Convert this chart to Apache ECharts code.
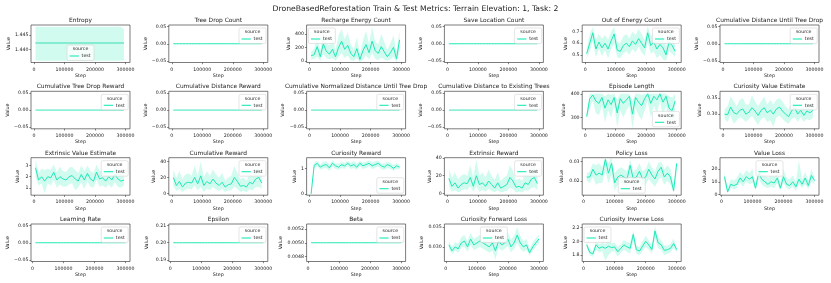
<!DOCTYPE html>
<html><head><meta charset="utf-8">
<script src="https://cdn.jsdelivr.net/npm/echarts@6/dist/echarts.min.js"></script>
<style>html,body{margin:0;padding:0;background:#fff}#c{width:831px;height:283px}</style>
</head><body><div id="c"></div>
<script>
// ---------- data ----------
const stepsEnv = [5000,15000,25000,35000,45000,55000,65000,75000,85000,95000,105000,115000,125000,135000,145000,155000,165000,175000,185000,195000,205000,215000,225000,235000,245000,255000,265000,275000,285000,295000];
const stepsUpd = [10000,20000,30000,40000,50000,60000,70000,80000,90000,100000,110000,120000,130000,140000,150000,160000,170000,180000,190000,200000,210000,220000,230000,240000,250000,260000,270000,280000,290000,300000];
const xTicks = [0,100000,200000,300000];

const zeros = [0,0,0,0,0,0,0,0,0,0,0,0,0,0,0,0,0,0,0,0,0,0,0,0,0,0,0,0,0,0];
const epsVals = [0.2,0.2,0.2,0.2,0.2,0.2,0.2,0.2,0.2,0.2,0.2,0.2,0.2,0.2,0.2,0.2,0.2,0.2,0.2,0.2,0.2,0.2,0.2,0.2,0.2,0.2,0.2,0.2,0.2,0.2];
const betaVals = [0.005,0.005,0.005,0.005,0.005,0.005,0.005,0.005,0.005,0.005,0.005,0.005,0.005,0.005,0.005,0.005,0.005,0.005,0.005,0.005,0.005,0.005,0.005,0.005,0.005,0.005,0.005,0.005,0.005,0.005];

const entMean = [1.4423,1.4423,1.4423,1.4423,1.4423,1.4423,1.4423,1.4423,1.4423,1.4423,1.4423,1.4423,1.4423,1.4423,1.4423,1.4423,1.4423,1.4423,1.4423,1.4423,1.4423,1.4423,1.4423,1.4423,1.4423,1.4423,1.4423,1.4423,1.4423,1.4423];
const entLo = [1.4362,1.4362,1.4362,1.4362,1.4362,1.4362,1.4362,1.4362,1.4362,1.4362,1.4362,1.4362,1.4362,1.4362,1.4362,1.4362,1.4362,1.4362,1.4362,1.4362,1.4362,1.4362,1.4362,1.4362,1.4362,1.4362,1.4362,1.4362,1.4362,1.4362];
const entHi = [1.4479,1.4479,1.4479,1.4479,1.4479,1.4479,1.4479,1.4479,1.4479,1.4479,1.4479,1.4479,1.4479,1.4479,1.4479,1.4479,1.4479,1.4479,1.4479,1.4479,1.4479,1.4479,1.4479,1.4479,1.4479,1.4479,1.4479,1.4479,1.4479,1.4470];

const recMean = [75,90,210,60,250,140,100,170,60,200,290,170,230,110,60,180,20,150,240,120,290,150,110,210,130,60,120,200,30,310];
const recLo = [20,30,60,0,100,40,20,40,0,60,120,40,80,10,0,40,-20,20,80,20,120,30,10,50,20,0,20,60,-20,150];
const recHi = [130,180,380,150,420,260,230,330,160,380,470,320,420,240,170,350,100,300,450,250,505,290,240,400,280,160,260,380,130,450];

const ooeMean = [0.51,0.60,0.69,0.55,0.61,0.56,0.60,0.55,0.62,0.68,0.54,0.53,0.58,0.60,0.57,0.62,0.59,0.64,0.60,0.56,0.69,0.58,0.61,0.55,0.59,0.56,0.50,0.61,0.58,0.53];
const ooeLo = [0.47,0.53,0.62,0.48,0.55,0.49,0.54,0.47,0.55,0.60,0.48,0.47,0.51,0.53,0.50,0.55,0.52,0.57,0.52,0.49,0.61,0.51,0.53,0.47,0.50,0.46,0.45,0.53,0.51,0.48];
const ooeHi = [0.55,0.68,0.74,0.63,0.68,0.64,0.67,0.63,0.70,0.74,0.61,0.60,0.66,0.68,0.64,0.70,0.67,0.72,0.68,0.63,0.75,0.66,0.69,0.62,0.69,0.66,0.57,0.70,0.66,0.58];

const epMean = [305,380,395,370,360,385,340,375,355,385,320,380,360,375,390,315,385,365,350,380,400,360,390,375,400,365,390,340,330,370];
const epLo = [290,340,370,320,310,350,280,330,300,350,260,330,300,330,350,255,340,310,290,330,370,300,350,320,370,310,350,280,270,320];
const epHi = [320,400,400,400,400,400,390,400,395,400,375,400,400,400,400,370,400,400,395,400,400,400,400,400,400,400,400,390,385,400];

const cveMean = [0.300,0.298,0.322,0.305,0.300,0.312,0.316,0.300,0.306,0.320,0.310,0.296,0.312,0.320,0.304,0.312,0.300,0.316,0.322,0.310,0.300,0.292,0.310,0.320,0.300,0.312,0.296,0.310,0.304,0.312];
const cveLo = [0.285,0.275,0.295,0.270,0.280,0.290,0.285,0.275,0.285,0.295,0.280,0.265,0.285,0.290,0.275,0.280,0.260,0.290,0.295,0.285,0.275,0.270,0.285,0.290,0.275,0.290,0.275,0.285,0.280,0.290];
const cveHi = [0.315,0.325,0.355,0.340,0.325,0.345,0.350,0.330,0.330,0.360,0.340,0.325,0.340,0.355,0.330,0.345,0.330,0.345,0.350,0.340,0.325,0.315,0.335,0.350,0.325,0.340,0.320,0.335,0.330,0.335];

const eveMean = [2.8,1.7,2.0,1.6,2.0,1.9,2.4,1.7,2.0,1.8,1.7,2.0,2.1,1.8,1.6,2.2,1.7,2.3,1.8,1.6,2.4,1.8,1.9,1.6,2.0,1.7,2.2,1.8,1.6,1.7];
const eveLo = [2.0,1.2,1.4,0.5,1.4,1.2,1.7,1.0,1.3,1.1,1.1,1.3,1.4,0.8,1.0,1.5,0.9,1.6,1.1,1.0,1.7,1.1,1.2,1.0,1.3,1.0,1.5,1.1,1.0,1.2];
const eveHi = [3.6,2.3,2.7,2.6,2.7,2.6,3.1,2.4,2.9,2.5,2.4,2.8,2.9,2.6,2.3,3.0,2.5,3.0,2.5,2.3,3.1,2.5,2.6,2.3,2.8,2.5,2.9,2.5,2.3,2.3];

const crMean = [20,10,15,8,13,14,13,20,12,22,10,15,12,18,13,10,14,8,11,12,20,15,9,10,8,14,12,18,20,13];
const crLo = [10,3,6,2,5,6,5,10,4,8,2,6,4,8,5,3,6,2,4,4,8,6,2,3,2,5,4,8,8,6];
const crHi = [30,20,28,18,24,25,22,35,22,40,20,28,22,30,24,20,26,16,20,22,34,26,18,20,16,25,22,30,33,22];

const curMean = [0.0,1.12,1.2,1.05,1.12,1.15,1.02,1.2,1.1,1.05,1.15,1.1,1.2,1.1,1.15,1.05,1.2,1.1,1.15,1.2,1.1,1.15,1.2,1.1,1.05,1.15,1.1,1.0,1.1,1.05];
const curLo = [0.0,1.0,1.08,0.95,1.0,1.02,0.9,1.08,0.98,0.95,1.02,0.98,1.08,0.98,1.02,0.94,1.08,0.98,1.02,1.08,0.98,1.02,1.08,0.98,0.94,1.02,0.98,0.9,0.98,0.95];
const curHi = [0.0,1.22,1.3,1.15,1.25,1.28,1.15,1.32,1.2,1.18,1.26,1.22,1.3,1.22,1.28,1.18,1.3,1.22,1.26,1.32,1.22,1.28,1.3,1.2,1.18,1.26,1.22,1.12,1.2,1.15];

const erMean = [17,8,12,6,10,12,11,18,8,20,10,12,8,14,10,6,12,6,8,10,18,14,7,8,6,12,10,16,18,11];
const erLo = [8,2,4,1,3,5,4,8,2,8,2,4,2,5,3,1,4,1,2,3,6,5,1,2,1,4,3,6,7,4];
const erHi = [27,18,24,16,20,22,20,32,18,38,20,24,18,27,20,15,24,14,18,20,32,25,15,17,14,23,20,28,30,20];

const plMean = [0.022,0.022,0.026,0.023,0.024,0.023,0.031,0.024,0.029,0.019,0.022,0.023,0.022,0.021,0.028,0.021,0.022,0.025,0.021,0.022,0.026,0.023,0.021,0.025,0.027,0.022,0.024,0.022,0.015,0.029];
const plLo = [0.020,0.019,0.022,0.018,0.019,0.019,0.025,0.019,0.023,0.015,0.018,0.019,0.018,0.017,0.022,0.017,0.018,0.020,0.017,0.018,0.021,0.019,0.017,0.020,0.022,0.018,0.020,0.018,0.014,0.024];
const plHi = [0.024,0.025,0.029,0.028,0.029,0.027,0.032,0.029,0.032,0.024,0.026,0.027,0.026,0.025,0.031,0.025,0.026,0.029,0.025,0.026,0.030,0.027,0.025,0.029,0.030,0.026,0.028,0.026,0.018,0.030];

const vlMean = [14,2,8,7,8,13,10,14,12,14,5,17,12,10,8,10,9,13,5,14,8,7,10,6,12,8,13,7,15,11];
const vlLo = [10,1,5,4,5,9,6,10,8,9,3,12,8,6,5,6,5,9,3,9,5,4,6,3,8,5,8,4,10,8];
const vlHi = [18,4,12,11,13,18,15,19,17,20,8,24,17,15,13,15,14,18,9,20,13,12,15,10,27,12,18,11,20,14];

const fwMean = [0.0305,0.0290,0.0300,0.0295,0.0310,0.0315,0.0300,0.0320,0.0305,0.0310,0.0315,0.0310,0.0305,0.0300,0.0310,0.0290,0.0315,0.0305,0.0310,0.0320,0.0300,0.0310,0.0330,0.0310,0.0300,0.0305,0.0285,0.0300,0.0310,0.0320];
const fwLo = [0.0295,0.0282,0.0290,0.0285,0.0298,0.0300,0.0288,0.0305,0.0292,0.0296,0.0300,0.0295,0.0290,0.0285,0.0290,0.0268,0.0298,0.0290,0.0295,0.0302,0.0286,0.0295,0.0310,0.0295,0.0288,0.0292,0.0278,0.0290,0.0300,0.0310];
const fwHi = [0.0315,0.0300,0.0312,0.0308,0.0325,0.0330,0.0315,0.0335,0.0320,0.0325,0.0330,0.0325,0.0322,0.0318,0.0330,0.0312,0.0332,0.0320,0.0325,0.0338,0.0318,0.0328,0.0350,0.0328,0.0315,0.0320,0.0295,0.0312,0.0322,0.0330];

const ivMean = [1.95,1.84,1.82,1.95,1.90,1.92,1.90,1.93,1.91,1.92,1.85,1.90,1.95,1.92,1.90,2.10,1.88,1.86,1.93,2.00,1.95,1.88,2.15,1.98,1.95,1.87,1.88,1.90,1.97,1.88];
const ivLo = [1.90,1.80,1.78,1.88,1.84,1.86,1.72,1.80,1.85,1.86,1.78,1.84,1.88,1.85,1.82,2.00,1.82,1.80,1.86,1.92,1.88,1.82,2.05,1.90,1.88,1.80,1.82,1.84,1.90,1.84];
const ivHi = [2.00,1.88,1.86,2.00,1.96,1.98,1.96,2.02,1.98,1.98,1.92,1.96,2.02,1.99,1.98,2.16,1.94,1.92,2.00,2.08,2.02,1.94,2.22,2.06,2.02,1.94,1.94,1.96,2.04,1.92];

// tick label arrays
const zeroTicks = [-0.05,0,0.05];
const entTicks = [1.440,1.445];
const recTicks = [0,200,400];
const ooeTicks = [0.5,0.6,0.7];
const epTicks = [300,400];
const cveTicks = [0.30,0.35];
const eveTicks = [1,2,3];
const crTicks = [0,20,40];
const curTicks = [0,1];
const erTicks = [0,20,40];
const plTicks = [0.02,0.03];
const vlTicks = [0,10,20];
const epsTicks = [0.19,0.20,0.21];
const betaTicks = [0.0048,0.0050,0.0052];
const fwTicks = [0.030,0.035];
const ivTicks = [1.8,2.0,2.2];

// ---------- layout / style ----------
const FONT = 'DejaVu Sans';
const LINE = '#1de9b6';
const TXT = '#222';
const colL = [31,168.8,306.6,444.4,582.2,720];
const rowT = [25,91.3,157.7,224];
const W = 99, H = 37.5;
const envX = [-9750,314750], updX = [-4500,314500];
const zr = [-0.055,0.055];
const thin = {w:1, c:LINE};
const thick = {w:1.8, c:'#8ef0d6'};

const panels = [
 {t:'Entropy', x:stepsEnv, xr:envX, m:entMean, lo:entLo, hi:entHi, y:[1.4356,1.4485], yt:entTicks, d:3, lg:'lc', g:20, s:{w:1.8, c:'#84ecd0'}},
 {t:'Tree Drop Count', x:stepsEnv, xr:envX, m:zeros, y:zr, yt:zeroTicks, d:2, lg:'ur', g:20, s:thin},
 {t:'Recharge Energy Count', x:stepsEnv, xr:envX, m:recMean, lo:recLo, hi:recHi, y:[-25,530], yt:recTicks, d:0, lg:'ul', g:14.5, s:thin},
 {t:'Save Location Count', x:stepsEnv, xr:envX, m:zeros, y:zr, yt:zeroTicks, d:2, lg:'ur', g:20.5, s:thin},
 {t:'Out of Energy Count', x:stepsEnv, xr:envX, m:ooeMean, lo:ooeLo, hi:ooeHi, y:[0.434,0.757], yt:ooeTicks, d:1, lg:'ur', g:13, s:thin},
 {t:'Cumulative Distance Until Tree Drop', x:stepsEnv, xr:envX, m:zeros, y:zr, yt:zeroTicks, d:2, lg:'ur', g:20.5, s:thin},
 {t:'Cumulative Tree Drop Reward', x:stepsEnv, xr:envX, m:zeros, y:zr, yt:zeroTicks, d:2, lg:'ur', g:20.5, s:thick},
 {t:'Cumulative Distance Reward', x:stepsEnv, xr:envX, m:zeros, y:zr, yt:zeroTicks, d:2, lg:'ur', g:20, s:thick},
 {t:'Cumulative Normalized Distance Until Tree Drop', x:stepsEnv, xr:envX, m:zeros, y:zr, yt:zeroTicks, d:2, lg:'ur', g:20.5, s:thick},
 {t:'Cumulative Distance to Existing Trees', x:stepsEnv, xr:envX, m:zeros, y:zr, yt:zeroTicks, d:2, lg:'ur', g:20.5, s:thick},
 {t:'Episode Length', x:stepsEnv, xr:envX, m:epMean, lo:epLo, hi:epHi, y:[253.5,410.7], yt:epTicks, d:0, lg:'lr', g:14.5, s:thin},
 {t:'Curiosity Value Estimate', x:stepsEnv, xr:envX, m:cveMean, lo:cveLo, hi:cveHi, y:[0.254,0.3715], yt:cveTicks, d:2, lg:'ur', g:18, s:thin},
 {t:'Extrinsic Value Estimate', x:stepsEnv, xr:envX, m:eveMean, lo:eveLo, hi:eveHi, y:[0.34,3.7], yt:eveTicks, d:0, lg:'ur', g:11, s:thin},
 {t:'Cumulative Reward', x:stepsEnv, xr:envX, m:crMean, lo:crLo, hi:crHi, y:[-2.1,44.6], yt:crTicks, d:0, lg:'ur', g:12, s:thin},
 {t:'Curiosity Reward', x:stepsEnv, xr:envX, m:curMean, lo:curLo, hi:curHi, y:[-0.05,1.42], yt:curTicks, d:0, lg:'lr', g:9.5, s:thin},
 {t:'Extrinsic Reward', x:stepsEnv, xr:envX, m:erMean, lo:erLo, hi:erHi, y:[-2,40.3], yt:erTicks, d:0, lg:'ur', g:12, s:thin},
 {t:'Policy Loss', x:stepsUpd, xr:updX, m:plMean, lo:plLo, hi:plHi, y:[0.0127,0.0319], yt:plTicks, d:2, lg:'lc', g:17.5, s:thin},
 {t:'Value Loss', x:stepsUpd, xr:updX, m:vlMean, lo:vlLo, hi:vlHi, y:[-0.6,29], yt:vlTicks, d:0, lg:'uc', g:12.5, s:thin},
 {t:'Learning Rate', x:stepsUpd, xr:updX, m:zeros, y:zr, yt:zeroTicks, d:2, lg:'ur', g:21, s:thin},
 {t:'Epsilon', x:stepsUpd, xr:updX, m:epsVals, y:[0.189,0.211], yt:epsTicks, d:2, lg:'ur', g:20, s:thin},
 {t:'Beta', x:stepsUpd, xr:updX, m:betaVals, y:[0.004725,0.005275], yt:betaTicks, d:4, lg:'ur', g:21.5, s:thin},
 {t:'Curiosity Forward Loss', x:stepsUpd, xr:updX, m:fwMean, lo:fwLo, hi:fwHi, y:[0.0263,0.0358], yt:fwTicks, d:3, lg:'uc', g:18, s:thin},
 {t:'Curiosity Inverse Loss', x:stepsUpd, xr:updX, m:ivMean, lo:ivLo, hi:ivHi, y:[1.71,2.25], yt:ivTicks, d:1, lg:'ul', g:13.5, s:thin}
];

function pairs(xs, ys){ return xs.map((x,i)=>[x, ys[i]]); }
function fmt(v, d){ const s = Math.abs(v).toFixed(d); return (v < -1e-12 ? '\u2212' : '') + s; }

const grid = [], xAxis = [], yAxis = [], series = [], titles = [], graphics = [];
titles.push({text:'DroneBasedReforestation Train & Test Metrics: Terrain Elevation: 1, Task: 2',
  left:415.5, top:4.8, textAlign:'center', padding:0,
  textStyle:{fontSize:7.7, fontWeight:'normal', color:TXT, fontFamily:FONT}});

const LW = 27, LH = 15.5;
panels.forEach((p, i) => {
  const r = Math.floor(i/6), c = i%6;
  const L = colL[c], T = rowT[r];
  grid.push({left:L, top:T, width:W, height:H, show:true, borderColor:'#444', borderWidth:0.7, backgroundColor:'transparent', containLabel:false});
  xAxis.push({type:'value', gridIndex:i, min:p.xr[0], max:p.xr[1],
    axisLine:{show:false, onZero:false}, splitLine:{show:false},
    axisTick:{show:true, length:1.7, lineStyle:{color:'#333', width:0.6}, customValues:xTicks},
    axisLabel:{customValues:xTicks, fontSize:4.7, color:TXT, margin:4.4, fontFamily:FONT, formatter:v=>String(v)},
    name:'Step', nameLocation:'middle', nameGap:10.8, nameTextStyle:{fontSize:4.8, color:TXT, fontFamily:FONT}});
  yAxis.push({type:'value', gridIndex:i, min:p.y[0], max:p.y[1],
    axisLine:{show:false, onZero:false}, splitLine:{show:false},
    axisTick:{show:true, length:1.7, lineStyle:{color:'#333', width:0.6}, customValues:p.yt},
    axisLabel:{customValues:p.yt, fontSize:4.7, color:TXT, margin:2.6, fontFamily:FONT, formatter:v=>fmt(v, p.d)},
    name:'Value', nameLocation:'middle', nameGap:p.g, nameTextStyle:{fontSize:4.8, color:TXT, fontFamily:FONT}});
  if (p.lo) {
    // confidence band: polygon through hi (forward) and lo (backward), positioned by the axis scales
    series.push({type:'custom', xAxisIndex:i, yAxisIndex:i, silent:true, clip:true, z:1,
      data:[[p.x[0], p.m[0]]],
      renderItem:(params, api) => {
        const pts = [];
        for (let k = 0; k < p.x.length; k++) pts.push(api.coord([p.x[k], p.hi[k]]));
        for (let k = p.x.length - 1; k >= 0; k--) pts.push(api.coord([p.x[k], p.lo[k]]));
        const cs = params.coordSys;
        return {type:'polygon', shape:{points:pts},
          clipPath:{type:'rect', shape:{x:cs.x, y:cs.y, width:cs.width, height:cs.height}},
          style:{fill:LINE, opacity:0.2}};
      }});
  }
  series.push({type:'line', name:'test', xAxisIndex:i, yAxisIndex:i, data:pairs(p.x, p.m), symbol:'none',
    lineStyle:{color:p.s.c, width:p.s.w}, z:3});
  titles.push({text:p.t, left:L + W/2, top:T - 7.6, textAlign:'center', padding:0,
    textStyle:{fontSize:5.9, fontWeight:'normal', color:TXT, fontFamily:FONT}});
  // legend box
  let lx, ly;
  if (p.lg[1] === 'r') lx = L + W - 1.8 - LW; else if (p.lg[1] === 'l') lx = L + 1.8; else lx = L + W/2 - LW/2;
  if (p.lg[0] === 'u') ly = T + 3; else ly = T + H - 2 - LH;
  graphics.push({type:'group', x:lx, y:ly, z:100, children:[
    {type:'rect', z:100, shape:{x:0, y:0, width:LW, height:LH, r:1.5}, style:{fill:'rgba(255,255,255,0.8)', stroke:'#d4d4d4', lineWidth:0.6}},
    {type:'text', z:101, style:{text:'source', x:LW/2, y:4.2, align:'center', verticalAlign:'middle', textAlign:'center', textVerticalAlign:'middle', font:'4.7px "DejaVu Sans"', fill:TXT}},
    {type:'line', z:101, shape:{x1:2.6, y1:11, x2:11.8, y2:11}, style:{stroke:LINE, lineWidth:1.1}},
    {type:'text', z:101, style:{text:'test', x:14.6, y:11, align:'left', verticalAlign:'middle', textAlign:'left', textVerticalAlign:'middle', font:'4.7px "DejaVu Sans"', fill:TXT}}
  ]});
});

const chart = echarts.init(document.getElementById('c'), null, {renderer:'canvas'});
chart.setOption({animation:false, backgroundColor:'#fff', title:titles, grid, xAxis, yAxis, series, graphic:{elements:graphics}});
</script>
</body></html>
